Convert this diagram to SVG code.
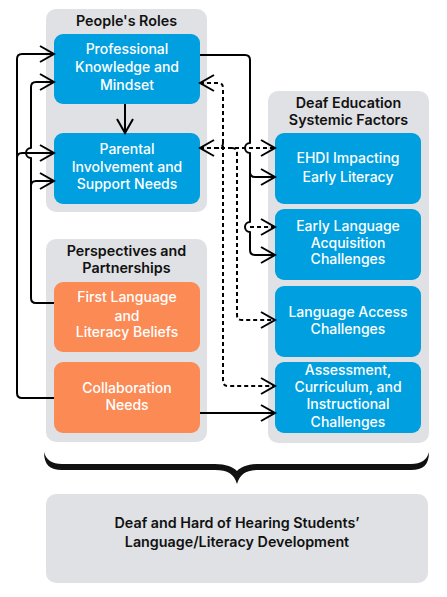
<svg xmlns="http://www.w3.org/2000/svg" width="447" height="597" viewBox="0 0 447 597">
<style>
.grp{fill:#DFE1E4}
.blue{fill:#009FDF}
.orange{fill:#FC8A55}
text{font-family:Inter,"Noto Sans","Liberation Sans",sans-serif;font-size:14px;text-anchor:middle}
.t{font-weight:600;fill:#111;font-size:14.3px}
.w{font-weight:500;fill:#fff}
.c{fill:none;stroke:#000;stroke-width:2;stroke-linejoin:round}
.d{fill:none;stroke:#000;stroke-width:2;stroke-dasharray:4 3}
</style>
<defs>
<marker id="ar" markerUnits="userSpaceOnUse" markerWidth="18" markerHeight="20" viewBox="0 0 18 20" refX="16" refY="10" orient="auto-start-reverse">
<path d="M2,2 L16,10 L2,18" fill="none" stroke="#000" stroke-width="2" stroke-dasharray="none"/>
</marker>
</defs>

<g id="peoples-roles">
<rect class="grp" x="46" y="9" width="161" height="203" rx="10"/>
<text class="t" x="126.5" y="26">People's Roles</text>
</g>
<g id="professional">
<rect class="blue" x="54" y="34" width="146" height="70" rx="9"/>
<text class="w" x="127" y="54">Professional</text>
<text class="w" x="127" y="72">Knowledge and</text>
<text class="w" x="127" y="89.5">Mindset</text>
</g>
<g id="parental">
<rect class="blue" x="54" y="133" width="146" height="71" rx="9"/>
<text class="w" x="127" y="154">Parental</text>
<text class="w" x="127" y="171.5">Involvement and</text>
<text class="w" x="127" y="188.5">Support Needs</text>
</g>

<g id="perspectives">
<rect class="grp" x="46" y="239" width="161" height="203" rx="10"/>
<text class="t" x="126.5" y="256">Perspectives and</text>
<text class="t" x="126.5" y="273">Partnerships</text>
</g>
<g id="first-language">
<rect class="orange" x="54" y="282" width="146" height="70" rx="9"/>
<text class="w" x="127" y="302">First Language</text>
<text class="w" x="127" y="320.5">and</text>
<text class="w" x="127" y="337">Literacy Beliefs</text>
</g>
<g id="collaboration">
<rect class="orange" x="54" y="362" width="146" height="71" rx="9"/>
<text class="w" x="127" y="393">Collaboration</text>
<text class="w" x="127" y="410">Needs</text>
</g>

<g id="deaf-education">
<rect class="grp" x="268" y="91" width="161" height="352" rx="10"/>
<text class="t" x="348.5" y="108">Deaf Education</text>
<text class="t" x="348.5" y="125">Systemic Factors</text>
</g>
<g id="ehdi">
<rect class="blue" x="275" y="133" width="146" height="71" rx="9"/>
<text class="w" x="348" y="163">EHDI Impacting</text>
<text class="w" x="348" y="182">Early Literacy</text>
</g>
<g id="early-language">
<rect class="blue" x="275" y="209" width="146" height="71" rx="9"/>
<text class="w" x="348" y="231">Early Language</text>
<text class="w" x="348" y="248">Acquisition</text>
<text class="w" x="348" y="264">Challenges</text>
</g>
<g id="language-access">
<rect class="blue" x="275" y="286" width="146" height="71" rx="9"/>
<text class="w" x="348" y="317">Language Access</text>
<text class="w" x="348" y="334">Challenges</text>
</g>
<g id="assessment">
<rect class="blue" x="275" y="362" width="146" height="71" rx="9"/>
<text class="w" x="348" y="375">Assessment,</text>
<text class="w" x="348" y="392">Curriculum, and</text>
<text class="w" x="348" y="409">Instructional</text>
<text class="w" x="348" y="427">Challenges</text>
</g>

<g id="outcome">
<rect class="grp" x="46" y="494" width="382" height="89" rx="10"/>
<text class="t" x="237" y="528">Deaf and Hard of Hearing Students’</text>
<text class="t" x="237" y="547">Language/Literacy Development</text>
</g>

<g id="brace">
<path d="M44,452 C44,465 50,470 62,470 L215,470 C228,470 234,474 237,484 C240,474 246,470 259,470 L411,470 C423,470 429,465 429,452 C427,460 421,464 411,464 L259,464 C248,464 241,467 237,471 C233,467 226,464 215,464 L62,464 C52,464 46,460 44,452 Z" fill="#111"/>
</g>

<g id="connectors">
<path class="c" d="M125,104 L125,133" marker-end="url(#ar)"/>
<path class="c" d="M54,398 L22,398 Q17,398 17,393 L17,59 Q17,54 22,54 L54,54" marker-end="url(#ar)"/>
<path class="c" d="M17,158 Q17,153 22,153 L54,153" marker-end="url(#ar)"/>
<path class="c" d="M54,303 L36,303 Q31,303 31,298 L31,158 A5,5 0 0 1 31,148 L31,87 Q31,82 36,82 L54,82" marker-end="url(#ar)"/>
<path class="c" d="M31,186 Q31,181 36,181 L54,181" marker-end="url(#ar)"/>
<path class="c" d="M200,55 L245,55 Q250,55 250,60 L250,143 A5,5 0 0 0 250,153 L250,222 A5,5 0 0 0 250,232 L250,250 Q250,255 255,255 L275,255" marker-end="url(#ar)"/>
<path class="c" d="M250,172 Q250,177 255,177 L275,177" marker-end="url(#ar)"/>
<path class="c" d="M200,413 L275,413" marker-end="url(#ar)"/>
<path class="d" d="M200,148 L275,148" marker-start="url(#ar)" marker-end="url(#ar)"/>
<path class="d" d="M200,83 L218,83 Q223,83 223,88 L223,381 Q223,386 228,386 L275,386" marker-start="url(#ar)" marker-end="url(#ar)"/>
<path class="d" d="M223,143 Q223,148 218,148"/>
<path class="d" d="M232,148 Q237,148 237,153 L237,315 Q237,320 242,320 L275,320" marker-end="url(#ar)"/>
<path class="d" d="M250,227 L275,227" marker-end="url(#ar)"/>
</g>
</svg>
